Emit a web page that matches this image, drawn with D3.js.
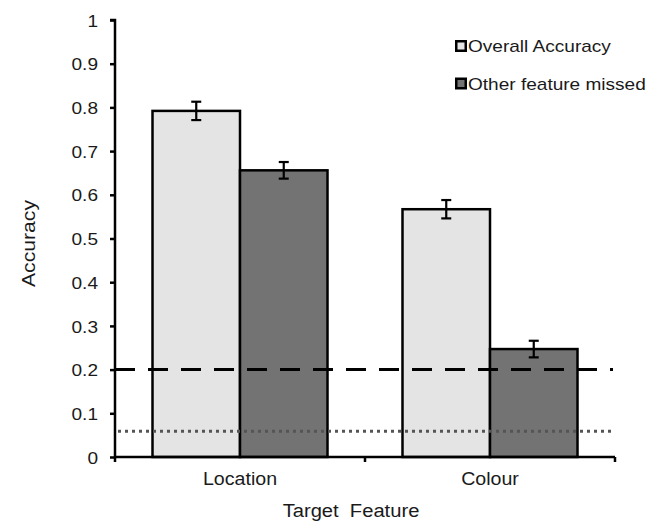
<!DOCTYPE html>
<html>
<head>
<meta charset="utf-8">
<script src="https://cdn.jsdelivr.net/npm/d3@7/dist/d3.min.js"></script>
<style>
  html, body { margin: 0; padding: 0; background: #fff; }
  svg { display: block; font-family: "Liberation Sans", Arial, sans-serif; }
</style>
</head>
<body>
<svg id="chart" width="662" height="521"></svg>
<script>
// ---- data ----
const categories = ["Location", "Colour"];
const seriesNames = ["Overall Accuracy", "Other feature missed"];
const overallAccuracy = [0.792, 0.567];
const otherMissed = [0.656, 0.247];
const overallErr = [0.021, 0.021];
const otherErr = [0.019, 0.019];
const yTicks = [0, 0.1, 0.2, 0.3, 0.4, 0.5, 0.6, 0.7, 0.8, 0.9, 1];
const chanceDashed = 0.2;
const chanceDotted = 0.059;

// ---- layout ----
const svg = d3.select("#chart");
const mLeft = 115, mRight = 615, mTop = 20, mBottom = 457;
const stretch = 1.12; // horizontal widening of the text seen in the reference
const textColor = "#1a1a1a";

const x = d3.scaleBand().domain(categories).range([mLeft, mRight]).paddingInner(0.3).paddingOuter(0.15);
const xs = d3.scaleBand().domain(seriesNames).range([0, x.bandwidth()]);
const y = d3.scaleLinear().domain([0, 1]).range([mBottom, mTop]);

const fills = ["#e4e4e4", "#737373"];
const values = [overallAccuracy, otherMissed];
const errs = [overallErr, otherErr];

// bars
const bars = [];
categories.forEach((c, i) => {
  seriesNames.forEach((s, j) => {
    bars.push({cat: c, series: s, j, v: values[j][i], e: errs[j][i]});
  });
});

svg.append("g").selectAll("rect").data(bars).join("rect")
  .attr("x", d => x(d.cat) + xs(d.series))
  .attr("y", d => y(d.v))
  .attr("width", xs.bandwidth())
  .attr("height", d => y(0) - y(d.v))
  .attr("fill", d => fills[d.j])
  .attr("stroke", "#000")
  .attr("stroke-width", 2.5);

// reference lines
svg.append("line")
  .attr("x1", mLeft).attr("x2", mRight - 2)
  .attr("y1", y(chanceDashed)).attr("y2", y(chanceDashed))
  .attr("stroke", "#000").attr("stroke-width", 3)
  .attr("stroke-dasharray", "20,13");

svg.append("line")
  .attr("x1", mLeft + 3).attr("x2", mRight - 2)
  .attr("y1", y(chanceDotted)).attr("y2", y(chanceDotted))
  .attr("stroke", "#555").attr("stroke-width", 3)
  .attr("stroke-dasharray", "3,4");

// error bars
const eb = svg.append("g").attr("stroke", "#000").attr("stroke-width", 2.2);
bars.forEach(d => {
  const cx = x(d.cat) + xs(d.series) + xs.bandwidth() / 2;
  eb.append("line").attr("x1", cx).attr("x2", cx).attr("y1", y(d.v + d.e)).attr("y2", y(d.v - d.e));
  eb.append("line").attr("x1", cx - 5).attr("x2", cx + 5).attr("y1", y(d.v + d.e)).attr("y2", y(d.v + d.e));
  eb.append("line").attr("x1", cx - 5).attr("x2", cx + 5).attr("y1", y(d.v - d.e)).attr("y2", y(d.v - d.e));
});

// y axis
const yAxis = d3.axisLeft(y).tickValues(yTicks).tickFormat(d => String(+d.toFixed(1))).tickSize(5).tickPadding(12);
const gy = svg.append("g").attr("transform", `translate(${mLeft},0)`).call(yAxis);
gy.select(".domain").attr("stroke", "#000").attr("stroke-width", 2.5).attr("d", `M-5,${mTop}H0V${mBottom}`);
gy.selectAll(".tick line").attr("stroke", "#000").attr("stroke-width", 2.5);
gy.selectAll(".tick text").attr("font-size", 17).attr("fill", textColor)
  .attr("font-family", "Liberation Sans, Arial, sans-serif").attr("dy", "0.36em");

// x axis
const gx = svg.append("g").attr("transform", `translate(0,${mBottom})`);
gx.append("line").attr("x1", mLeft).attr("x2", mRight).attr("y1", 0).attr("y2", 0)
  .attr("stroke", "#000").attr("stroke-width", 2.5);
const boundaries = [mLeft, (mLeft + mRight) / 2, mRight];
gx.selectAll("line.tk").data(boundaries).join("line").attr("class", "tk")
  .attr("x1", d => d).attr("x2", d => d).attr("y1", 0).attr("y2", 5)
  .attr("stroke", "#000").attr("stroke-width", 2.5);
gx.selectAll("text").data(categories).join("text")
  .attr("x", d => x(d) + x.bandwidth() / 2)
  .attr("y", 28)
  .attr("text-anchor", "middle")
  .attr("font-size", 17.5).attr("fill", textColor)
  .text(d => d);

// axis titles
svg.append("text")
  .attr("x", 351).attr("y", 517)
  .attr("text-anchor", "middle").attr("font-size", 18).attr("fill", textColor)
  .attr("xml:space", "preserve")
  .text("Target  Feature");

const yTitle = svg.append("text")
  .attr("transform", "translate(35,243.5) rotate(-90)")
  .attr("text-anchor", "middle").attr("font-size", 18).attr("fill", textColor)
  .text("Accuracy");

// legend
const lg = svg.append("g");
seriesNames.forEach((s, j) => {
  const yy = 46 + j * 37.5;
  lg.append("rect").attr("x", 456.25).attr("y", yy - 4.75).attr("width", 9.5).attr("height", 9.5)
    .attr("fill", fills[j]).attr("stroke", "#000").attr("stroke-width", 2.5);
  lg.append("text").attr("x", 468).attr("y", yy + 6).attr("font-size", 17).attr("fill", textColor).text(s);
});

// widen horizontal text to match the reference proportions
svg.selectAll("text").each(function () {
  if (this === yTitle.node()) return;
  const w = this.getComputedTextLength();
  d3.select(this).attr("textLength", w * stretch).attr("lengthAdjust", "spacingAndGlyphs");
});
yTitle.attr("textLength", 87).attr("lengthAdjust", "spacingAndGlyphs");
</script>
</body>
</html>
